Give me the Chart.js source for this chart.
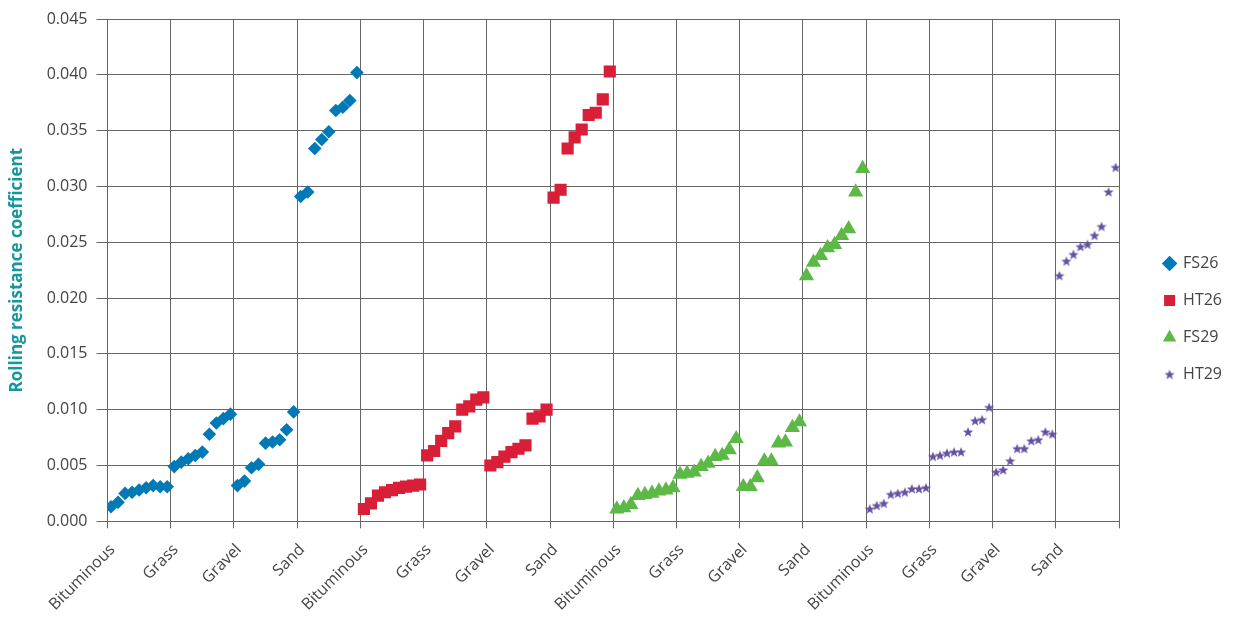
<!DOCTYPE html>
<html>
<head>
<meta charset="utf-8">
<script src="https://cdn.jsdelivr.net/npm/chart.js@4.4.1/dist/chart.umd.min.js"></script>
<style>
  html, body { margin: 0; padding: 0; background: #ffffff; }
  #wrap { width: 1238px; height: 619px; }
</style>
</head>
<body>
<div id="wrap"><canvas id="c" width="1238" height="619"></canvas></div>
<script>
// ---- data ----
const surfaces = ['Bituminous', 'Grass', 'Gravel', 'Sand'];
const seriesNames = ['FS26', 'HT26', 'FS29', 'HT29'];
const tickLabels = [
  'Bituminous', 'Grass', 'Gravel', 'Sand',
  'Bituminous', 'Grass', 'Gravel', 'Sand',
  'Bituminous', 'Grass', 'Gravel', 'Sand',
  'Bituminous', 'Grass', 'Gravel', 'Sand'
];
const yTicks = [0, 0.005, 0.010, 0.015, 0.020, 0.025, 0.030, 0.035, 0.040, 0.045];

// 9 measurements per surface, ordered Bituminous, Grass, Gravel, Sand
const fs26 = [
  0.0013, 0.0017, 0.0025, 0.0026, 0.0028, 0.0030, 0.0032, 0.0031, 0.0031,
  0.0049, 0.0053, 0.0056, 0.0059, 0.0062, 0.0078, 0.0088, 0.0092, 0.0096,
  0.0032, 0.0036, 0.0048, 0.0051, 0.0070, 0.0071, 0.0073, 0.0082, 0.0098,
  0.0291, 0.0295, 0.0334, 0.0342, 0.0349, 0.0368, 0.0371, 0.0377, 0.0402
];
const ht26 = [
  0.0011, 0.0016, 0.0023, 0.0026, 0.0028, 0.0030, 0.0031, 0.0032, 0.0033,
  0.0059, 0.0063, 0.0072, 0.0079, 0.0085, 0.0100, 0.0103, 0.0109, 0.0111,
  0.0050, 0.0053, 0.0058, 0.0062, 0.0065, 0.0068, 0.0092, 0.0094, 0.0100,
  0.0290, 0.0297, 0.0334, 0.0344, 0.0351, 0.0364, 0.0366, 0.0378, 0.0403
];
const fs29 = [
  0.0011, 0.0012, 0.0015, 0.0023, 0.0024, 0.0025, 0.0027, 0.0028, 0.0030,
  0.0042, 0.0043, 0.0044, 0.0049, 0.0052, 0.0058, 0.0059, 0.0064, 0.0074,
  0.0031, 0.0031, 0.0039, 0.0054, 0.0054, 0.0070, 0.0071, 0.0084, 0.0089,
  0.0220, 0.0232, 0.0238, 0.0245, 0.0248, 0.0256, 0.0262, 0.0295, 0.0316
];
const ht29 = [
  0.0011, 0.0014, 0.0016, 0.0024, 0.0025, 0.0026, 0.0029, 0.0029, 0.0030,
  0.0058, 0.0059, 0.0061, 0.0062, 0.0062, 0.0080, 0.0090, 0.0091, 0.0102,
  0.0044, 0.0046, 0.0054, 0.0065, 0.0065, 0.0072, 0.0073, 0.0080, 0.0078,
  0.0220, 0.0233, 0.0239, 0.0246, 0.0248, 0.0256, 0.0264, 0.0295, 0.0317
];

// ---- build chart ----
const perSurface = fs26.length / surfaces.length;       // 9
const perSeries = fs26.length;                           // 36
const totalSlots = perSeries * seriesNames.length;       // 144

function toPoints(values, seriesIndex) {
  return values.map((v, i) => ({ x: seriesIndex * perSeries + i, y: v }));
}

// filled five-point star marker
function makeStar(color) {
  const c = document.createElement('canvas');
  c.width = 12; c.height = 12;
  const g = c.getContext('2d');
  const cx = 6, cy = 6.3, R = 5.4, r = 2.3;
  g.beginPath();
  for (let k = 0; k < 10; k++) {
    const ang = -Math.PI / 2 + k * Math.PI / 5;
    const rad = k % 2 === 0 ? R : r;
    const px = cx + rad * Math.cos(ang), py = cy + rad * Math.sin(ang);
    if (k === 0) g.moveTo(px, py); else g.lineTo(px, py);
  }
  g.closePath();
  g.fillStyle = color;
  g.fill();
  return c;
}

const colors = ['#0079B6', '#D91E37', '#5DB946', '#6552A3'];
const starImg = makeStar(colors[3]);

Chart.defaults.font.family = "'Open Sans', 'Noto Sans', sans-serif";

const gridColor = '#666666';
const textColor = '#444444';

const datasets = [
  { label: seriesNames[0], data: toPoints(fs26, 0), pointStyle: 'rectRot', pointRadius: 6.8,
    backgroundColor: colors[0], borderColor: colors[0], pointBorderWidth: 0 },
  { label: seriesNames[1], data: toPoints(ht26, 1), pointStyle: 'rect', pointRadius: 8.6,
    backgroundColor: colors[1], borderColor: colors[1], pointBorderWidth: 0 },
  { label: seriesNames[2], data: toPoints(fs29, 2), pointStyle: 'triangle', pointRadius: 8.8,
    backgroundColor: colors[2], borderColor: colors[2], pointBorderWidth: 0 },
  { label: seriesNames[3], data: toPoints(ht29, 3), pointStyle: starImg, pointRadius: 6,
    backgroundColor: colors[3], borderColor: colors[3], pointBorderWidth: 0 }
].map(d => Object.assign(d, { showLine: false, yAxisID: 'y', xAxisID: 'x' }));

new Chart(document.getElementById('c'), {
  type: 'scatter',
  data: { datasets },
  options: {
    responsive: false,
    animation: false,
    events: [],
    layout: { padding: { top: 19, right: 6, bottom: 0, left: 0 } },
    plugins: {
      tooltip: { enabled: false },
      legend: {
        position: 'right',
        align: 'center',
        labels: {
          usePointStyle: true,
          boxWidth: 11,
          boxHeight: 11,
          padding: 21,
          color: textColor,
          font: { size: 16 }
        }
      }
    },
    scales: {
      y: {
        type: 'linear',
        position: 'left',
        min: yTicks[0],
        max: yTicks[yTicks.length - 1],
        afterBuildTicks: s => { s.ticks = yTicks.map(v => ({ value: v })); },
        afterFit: s => { s.width = 107.5; },
        ticks: {
          color: textColor,
          font: { size: 16 },
          padding: 9,
          callback: v => Number(v).toFixed(3)
        },
        grid: { color: gridColor, lineWidth: 1, tickLength: 11, drawTicks: true },
        border: { color: gridColor, width: 1 },
        title: {
          display: true,
          text: 'Rolling resistance coefficient',
          color: '#16979d',
          font: { size: 17, weight: 'bold' },
          padding: { top: 7, bottom: 0 }
        }
      },
      yspace: {
        type: 'linear',
        position: 'right',
        display: true,
        grid: { display: false, drawTicks: false },
        border: { display: false },
        ticks: { display: false },
        afterFit: s => { s.width = 24; }
      },
      x: {
        type: 'linear',
        position: 'bottom',
        min: -0.5,
        max: totalSlots - 0.5,
        afterBuildTicks: s => {
          const t = [];
          for (let k = 0; k <= tickLabels.length; k++) t.push({ value: -0.5 + k * perSurface });
          s.ticks = t;
        },
        afterFit: s => { s.height = 619 - 521.3; },
        ticks: {
          autoSkip: false,
          maxRotation: 45,
          minRotation: 45,
          color: textColor,
          font: { size: 16 },
          padding: 12,
          labelOffset: 5,
          callback: (v, i) => (i < tickLabels.length ? tickLabels[i] : '')
        },
        grid: { color: gridColor, lineWidth: 1, tickLength: 7, drawTicks: true },
        border: { color: gridColor, width: 1 }
      }
    }
  }
});
</script>
</body>
</html>
